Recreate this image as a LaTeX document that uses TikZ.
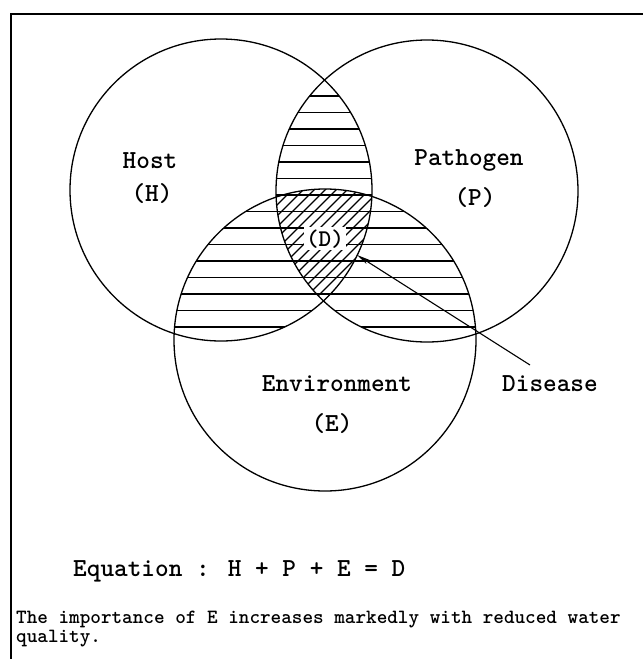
\documentclass[tikz,border=0pt]{standalone}
\usepackage{fontspec}
\newfontfamily\notefont{lmmonolt10-bold.otf}
\usetikzlibrary{arrows.meta}
\begin{document}
\begin{tikzpicture}[x=1pt,y=-1pt,
  ring/.style={draw=black,line width=1.3pt},
  hatch/.style={line width=1.1pt},
  lbl/.style={font=\ttfamily\bfseries\fontsize{26}{28}\selectfont,anchor=base,inner sep=0pt},
  note/.style={font=\notefont\fontsize{20.2}{22}\selectfont,anchor=base west,inner sep=0pt}]
\useasboundingbox (0,0) rectangle (643,659);
\fill[white] (0,0) rectangle (643,659);
\coordinate (H) at (221,190);
\coordinate (P) at (427,191);
\coordinate (E) at (325,340);
\def\rr{151pt}
% horizontal hatching in pairwise overlaps
\begin{scope}
  \clip (H) circle[radius=\rr];
  \clip (P) circle[radius=\rr];
  \foreach \yy in {96,112.5,...,345} \draw[hatch] (40,\yy) -- (620,\yy);
\end{scope}
\begin{scope}
  \clip (H) circle[radius=\rr];
  \clip (E) circle[radius=\rr];
  \foreach \yy in {96,112.5,...,345} \draw[hatch] (40,\yy) -- (620,\yy);
\end{scope}
\begin{scope}
  \clip (P) circle[radius=\rr];
  \clip (E) circle[radius=\rr];
  \foreach \yy in {96,112.5,...,345} \draw[hatch] (40,\yy) -- (620,\yy);
\end{scope}
% diagonal hatching in the triple overlap
\begin{scope}
  \clip (H) circle[radius=\rr];
  \clip (P) circle[radius=\rr];
  \clip (E) circle[radius=\rr];
  \foreach \xx in {140,151,...,420} \draw[hatch] (\xx,320) -- (\xx+150,170);
\end{scope}
% circles
\draw[ring] (H) circle[radius=\rr];
\draw[ring] (P) circle[radius=\rr];
\draw[ring] (E) circle[radius=\rr];
% frame
\draw[line width=1.8pt] (11,659) -- (11,14) -- (643,14);
% labels
\node[lbl] (host) at (150,168) {Host};
\node[lbl] (hh) at (152,201) {(H)};
\node[lbl] (path) at (469,165) {Pathogen};
\node[lbl] (pp) at (475,205) {(P)};
\node[lbl] (env) at (337,391) {Environment};
\node[lbl] (ee) at (332,431) {(E)};
\node[lbl] (dis) at (550,391) {Disease};
\node[lbl,font=\ttfamily\bfseries\fontsize{24}{26}\selectfont,fill=white,inner sep=2pt] (dd) at (325,246) {(D)};
% arrow
\coordinate (astart) at (530,365);
\coordinate (dtip) at (357,255);
\draw[line width=1.1pt,-{Stealth[length=13pt,width=5pt]}] (astart) -- (dtip);
% equation and note
\node[lbl,anchor=base west] (eq) at (73,576) {Equation : H + P + E = D};
\node[note] (n1) at (16,623) {The importance of E increases markedly with reduced water};
\node[note] (n2) at (16,642) {quality.};
\end{tikzpicture}
\end{document}
